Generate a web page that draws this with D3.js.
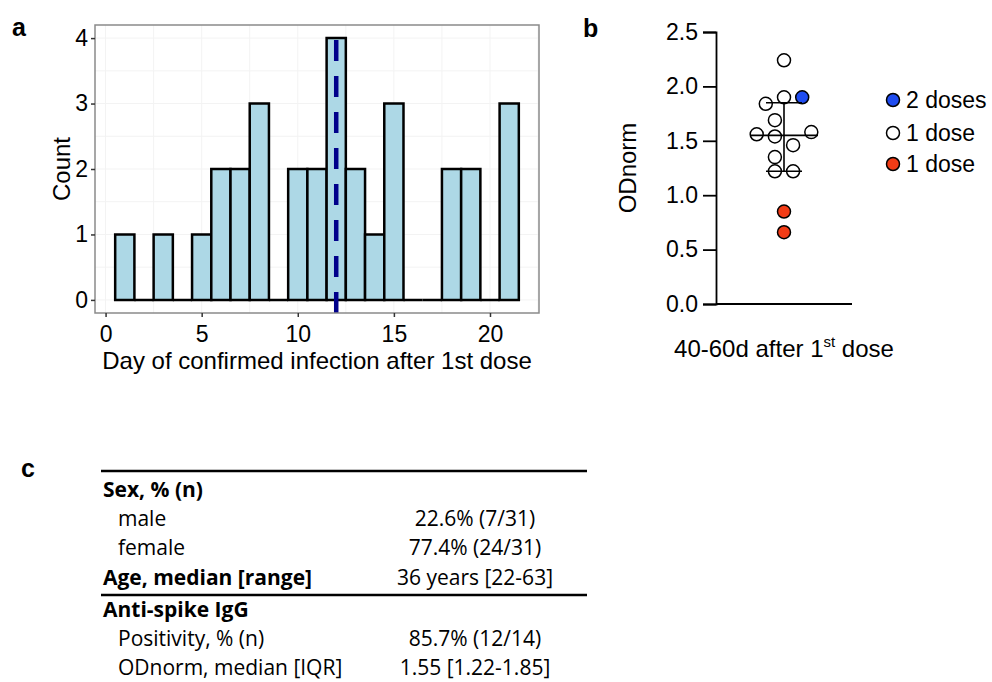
<!DOCTYPE html>
<html>
<head>
<meta charset="utf-8">
<script src="https://cdn.jsdelivr.net/npm/d3@7"></script>
<style>
  body { margin: 0; background: #fff; }
  svg { display: block; }
</style>
</head>
<body>
<svg id="fig" width="992" height="682"></svg>
<script>
// panel a: histogram of infection day
const days = [1, 2, 3, 4, 5, 6, 7, 8, 9, 10, 11, 12, 13, 14, 15, 16, 17, 18, 19, 20, 21];
const counts = [1, 0, 1, 0, 1, 2, 2, 3, 0, 2, 2, 4, 2, 1, 3, 0, 0, 2, 2, 0, 3];
const medianDay = 12;
const dayTicks = [0, 5, 10, 15, 20];
const countTicks = [0, 1, 2, 3, 4];

// panel b: ODnorm scatter
const odValues = [2.24, 1.90, 1.90, 1.84, 1.69, 1.56, 1.54, 1.58, 1.46, 1.35, 1.22, 1.22, 0.85, 0.66];
const odGroup = ['one', 'one', 'two', 'one', 'one', 'one', 'one', 'one', 'one', 'one', 'one', 'one', 'oneNeg', 'oneNeg'];
const odSwarm = [0, 0, 2, -2, -1, -3, -1, 3, 1, -1, -1, 1, 0, 0];
const odMedian = 1.55, odQ1 = 1.22, odQ3 = 1.85;
const odTicks = [0, 0.5, 1.0, 1.5, 2.0, 2.5];
const legendKeys = ['two', 'one', 'oneNeg'];
const legendLabels = ['2 doses', '1 dose', '1 dose'];
const legendColors = ['#1f4cf0', '#ffffff', '#f23c16'];

// panel c: table
const tableLabels = ['Sex, % (n)', 'male', 'female', 'Age, median [range]', 'Anti-spike IgG', 'Positivity, % (n)', 'ODnorm, median [IQR]'];
const tableValues = ['', '22.6% (7/31)', '77.4% (24/31)', '36 years [22-63]', '', '85.7% (12/14)', '1.55 [1.22-1.85]'];
const tableBold = [true, false, false, true, true, false, false];

const svg = d3.select('#fig');
const arial = 'Liberation Sans, Arial, sans-serif';

// ---------- panel a ----------
const x = d3.scaleLinear().domain([-0.55, 22.55]).range([95, 539]);
const y = d3.scaleLinear().domain([-0.2, 4.2]).range([313, 25]);
const ga = svg.append('g');

ga.append('rect')
    .attr('x', x.range()[0]).attr('y', y.range()[1])
    .attr('width', x.range()[1] - x.range()[0])
    .attr('height', y.range()[0] - y.range()[1])
    .attr('fill', '#fff');

// faint grid
ga.selectAll('line.gx').data(d3.range(0, 22.6, 2.5)).enter().append('line')
    .attr('x1', d => x(d)).attr('x2', d => x(d))
    .attr('y1', y.range()[0]).attr('y2', y.range()[1])
    .attr('stroke', '#f3f3f3').attr('stroke-width', 1);
ga.selectAll('line.gy').data(d3.range(0, 4.1, 0.5)).enter().append('line')
    .attr('x1', x.range()[0]).attr('x2', x.range()[1])
    .attr('y1', d => y(d)).attr('y2', d => y(d))
    .attr('stroke', '#f3f3f3').attr('stroke-width', 1);

ga.selectAll('path.bar').data(days).enter().append('path')
    .attr('d', (d, i) => {
        const x0 = x(d - 0.5), x1 = x(d + 0.5), y0 = y(0), y1 = y(counts[i]);
        return 'M' + x0 + ',' + y0 + 'V' + y1 + 'H' + x1 + 'V' + y0 + 'Z';
    })
    .attr('fill', '#add8e6')
    .attr('stroke', '#000')
    .attr('stroke-width', 2.5);

ga.append('line')
    .attr('x1', x(medianDay)).attr('x2', x(medianDay))
    .attr('y1', y.range()[0]).attr('y2', y.range()[1])
    .attr('stroke', '#00008b')
    .attr('stroke-width', 4.5)
    .attr('stroke-dasharray', '21,15');

ga.append('rect')
    .attr('x', x.range()[0]).attr('y', y.range()[1])
    .attr('width', x.range()[1] - x.range()[0])
    .attr('height', y.range()[0] - y.range()[1])
    .attr('fill', 'none').attr('stroke', '#8a8a8a').attr('stroke-width', 1.5);

const axA = ga.append('g').attr('transform', 'translate(0,' + y.range()[0] + ')')
    .call(d3.axisBottom(x).tickValues(dayTicks).tickSize(4).tickPadding(9));
const ayA = ga.append('g').attr('transform', 'translate(' + x.range()[0] + ',0)')
    .call(d3.axisLeft(y).tickValues(countTicks).tickFormat(d3.format('d')).tickSize(4).tickPadding(3));
[axA, ayA].forEach(a => {
    a.select('.domain').remove();
    a.selectAll('.tick line').attr('stroke', '#333').attr('stroke-width', 1.5);
    a.selectAll('.tick text').attr('fill', '#000').attr('font-family', arial).attr('font-size', 23);
});

ga.append('text')
    .attr('x', (x.range()[0] + x.range()[1]) / 2).attr('y', 369)
    .attr('text-anchor', 'middle')
    .attr('font-family', arial).attr('font-size', 24)
    .text('Day of confirmed infection after 1st dose');
ga.append('text')
    .attr('transform', 'translate(70,' + (y.range()[0] + y.range()[1]) / 2 + ') rotate(-90)')
    .attr('text-anchor', 'middle')
    .attr('font-family', arial).attr('font-size', 24)
    .text('Count');

// ---------- panel b ----------
const yb = d3.scaleLinear().domain([0, 2.5]).range([304, 32]);
const xb = d3.scalePoint().domain(['40-60d']).range([716, 852]).padding(0.5);
const sw = d3.scaleLinear().domain([-1, 1]).range([-9.1, 9.1]);
const colorB = d3.scaleOrdinal().domain(legendKeys).range(legendColors);
const gb = svg.append('g');

const ayB = gb.append('g').attr('transform', 'translate(716,0)')
    .call(d3.axisLeft(yb).tickValues(odTicks).tickFormat(d3.format('.1f')).tickSize(13).tickPadding(5));
ayB.select('.domain').attr('stroke', '#000').attr('stroke-width', 1.8);
ayB.selectAll('.tick line').attr('stroke', '#000').attr('stroke-width', 1.8);
ayB.selectAll('.tick text').attr('fill', '#000').attr('font-family', arial).attr('font-size', 23);

gb.append('line')
    .attr('x1', 716).attr('x2', 852)
    .attr('y1', yb(0)).attr('y2', yb(0))
    .attr('stroke', '#000').attr('stroke-width', 1.8);

const cx = xb('40-60d');
gb.selectAll('circle.pt').data(odValues).enter().append('circle')
    .attr('cx', (d, i) => cx + sw(odSwarm[i]))
    .attr('cy', d => yb(d))
    .attr('r', 6.5)
    .attr('fill', (d, i) => colorB(odGroup[i]))
    .attr('stroke', '#000').attr('stroke-width', 1.5);

// median and IQR
gb.append('line').attr('x1', cx - 34).attr('x2', cx + 34)
    .attr('y1', yb(odMedian)).attr('y2', yb(odMedian))
    .attr('stroke', '#000').attr('stroke-width', 1.6);
gb.append('line').attr('x1', cx).attr('x2', cx)
    .attr('y1', yb(odQ1)).attr('y2', yb(odQ3))
    .attr('stroke', '#000').attr('stroke-width', 1.6);
[odQ1, odQ3].forEach(q => {
    gb.append('line').attr('x1', cx - 18).attr('x2', cx + 18)
        .attr('y1', yb(q)).attr('y2', yb(q))
        .attr('stroke', '#000').attr('stroke-width', 1.6);
});

const xlab = gb.append('text')
    .attr('x', cx).attr('y', 357)
    .attr('text-anchor', 'middle')
    .attr('font-family', arial).attr('font-size', 24);
xlab.append('tspan').text('40-60d after 1');
xlab.append('tspan').attr('font-size', 15).attr('dy', -10).text('st');
xlab.append('tspan').attr('dy', 10).text(' dose');

gb.append('text')
    .attr('transform', 'translate(636,' + (yb(0) + yb(2.5)) / 2 + ') rotate(-90)')
    .attr('text-anchor', 'middle')
    .attr('font-family', arial).attr('font-size', 24)
    .text('ODnorm');

const leg = gb.selectAll('g.leg').data(legendKeys).enter().append('g')
    .attr('transform', (d, i) => 'translate(893,' + [100, 133, 164][i] + ')');
leg.append('circle').attr('r', 6.5)
    .attr('fill', d => colorB(d)).attr('stroke', '#000').attr('stroke-width', 1.5);
leg.append('text').attr('x', 13).attr('y', 8)
    .attr('font-family', arial).attr('font-size', 23)
    .text((d, i) => legendLabels[i]);

// ---------- panel c ----------
const gc = svg.append('g');
const rowY = d3.scaleLinear().domain([0, 6]).range([497, 672]);
const rowNudge = [0, 0, 0, 0, 3, 3, 3];

gc.selectAll('text.lab').data(tableLabels).enter().append('text')
    .attr('x', (d, i) => tableBold[i] ? 103 : 118)
    .attr('y', (d, i) => rowY(i) + rowNudge[i])
    .attr('font-family', 'Open Sans, sans-serif')
    .attr('font-size', 21)
    .attr('font-weight', (d, i) => tableBold[i] ? 700 : 400)
    .text(d => d);
gc.selectAll('text.val').data(tableValues).enter().append('text')
    .attr('x', 475)
    .attr('y', (d, i) => rowY(i) + rowNudge[i])
    .attr('text-anchor', 'middle')
    .attr('font-family', 'Open Sans, sans-serif')
    .attr('font-size', 21)
    .text(d => d);
[471, 595].forEach(ry => {
    gc.append('line').attr('x1', 101).attr('x2', 587)
        .attr('y1', ry).attr('y2', ry)
        .attr('stroke', '#000').attr('stroke-width', 2.5);
});

// panel letters
[['a', 12, 36], ['b', 583, 37], ['c', 21, 477]].forEach(p => {
    svg.append('text').attr('x', p[1]).attr('y', p[2])
        .attr('font-family', arial).attr('font-weight', 700).attr('font-size', 25)
        .text(p[0]);
});
</script>
</body>
</html>
